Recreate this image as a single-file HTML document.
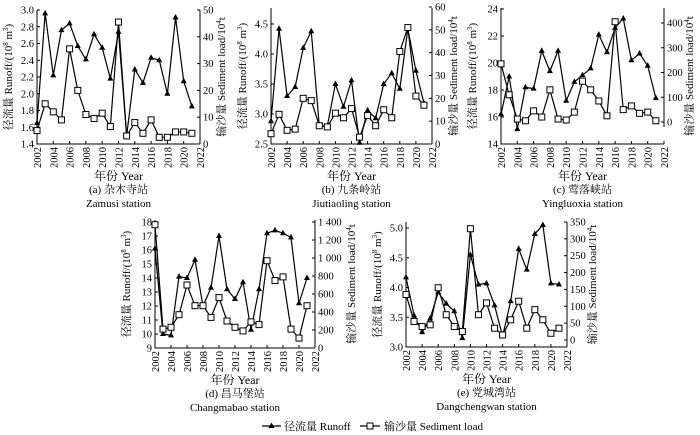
<!DOCTYPE html>
<html><head><meta charset="utf-8"><style>
html,body{margin:0;padding:0;background:#fff;}
svg{display:block;font-family:"Liberation Serif","Noto Serif CJK SC","Noto Sans CJK SC",serif;}
</style></head><body>
<svg id="c" width="700" height="435" viewBox="0 0 700 435" xmlns="http://www.w3.org/2000/svg"></svg>
<script>
const years=[2002,2003,2004,2005,2006,2007,2008,2009,2010,2011,2012,2013,2014,2015,2016,2017,2018,2019,2020,2021];
const xTicks=[2002,2004,2006,2008,2010,2012,2014,2016,2018,2020,2022];
const runoffA=[1.65,2.96,2.22,2.76,2.84,2.57,2.41,2.71,2.55,2.18,2.74,1.50,2.29,2.13,2.43,2.40,2.00,2.91,2.15,1.85];
const sedA=[5,15,12,9,35.5,20,11,9.5,11.5,6.5,45.5,3,8,4,9,2.5,2.5,4.5,4.5,4];
const runoffB=[2.88,4.42,3.30,3.45,4.10,4.38,2.80,2.80,3.50,3.12,3.56,2.52,3.06,2.93,3.50,3.68,3.42,4.42,3.72,3.18];
const sedB=[4.5,13,6,6.5,20,19,8,7.5,13.5,11.5,15.5,3,12.5,8,15,11.5,40.5,51,21,17];
const runoffC=[16.2,19.0,15.1,18.2,18.1,20.9,19.4,20.9,17.2,18.6,19.1,19.6,22.1,20.8,22.6,23.3,20.2,20.7,19.8,17.4];
const sedC=[235,110,12,5,45,20,130,12,8,40,165,130,85,25,405,50,65,35,40,5];
const runoffD=[16.1,10.0,9.9,14.1,14.0,15.3,12.0,13.3,17.0,13.2,12.5,13.7,10.3,13.2,17.2,17.4,17.2,16.9,12.2,14.0];
const sedD=[1370,210,230,370,700,470,470,340,560,300,230,190,290,260,970,750,790,210,110,470];
const runoffE=[4.17,3.53,3.25,3.48,3.92,3.73,3.60,3.15,4.55,4.05,4.07,3.70,3.18,3.77,4.65,4.30,4.90,5.05,4.07,4.05];
const sedE=[135,55,40,45,155,75,40,25,330,75,110,35,15,60,115,35,90,60,20,35];
const leftTicksA=[1.4,1.6,1.8,2.0,2.2,2.4,2.6,2.8,3.0], rightTicksA=[0,10,20,30,40,50];
const leftTicksB=[2.5,3.0,3.5,4.0,4.5], rightTicksB=[0,10,20,30,40,50,60];
const leftTicksC=[14,16,18,20,22,24], rightTicksC=[0,100,200,300,400];
const leftTicksD=[9,10,11,12,13,14,15,16,17,18], rightTicksD=[0,200,400,600,800,1000,1200,1400];
const leftTicksE=[3.0,3.5,4.0,4.5,5.0], rightTicksE=[0,50,100,150,200,250,300,350];

const panels=[
 {id:'a',cn:'(a) 杂木寺站',en:'Zamusi station',runoff:runoffA,sed:sedA,lt:leftTicksA,rt:rightTicksA,x0:37,x1:200,lmin:1.4,lmax:3.0,ly0:144,ly1:10,rmin:0,rmax:50,ry0:144,ry1:10,top:10,rbot:144,ld:1,ro:25},
 {id:'b',cn:'(b) 九条岭站',en:'Jiutiaoling station',runoff:runoffB,sed:sedB,lt:leftTicksB,rt:rightTicksB,x0:271,x1:432,lmin:2.5,lmax:4.5,ly0:144,ly1:24,rmin:0,rmax:60,ry0:144,ry1:7,top:8,rbot:144,ld:1,ro:25},
 {id:'c',cn:'(c) 莺落峡站',en:'Yingluoxia station',runoff:runoffC,sed:sedC,lt:leftTicksC,rt:rightTicksC,x0:501,x1:664,lmin:14,lmax:24,ly0:144,ly1:9,rmin:0,rmax:400,ry0:122,ry1:23,top:8,rbot:127,ld:0,ro:29},
 {id:'d',cn:'(d) 昌马堡站',en:'Changmabao station',runoff:runoffD,sed:sedD,lt:leftTicksD,rt:rightTicksD,x0:155,x1:315,lmin:9,lmax:18,ly0:348,ly1:222,rmin:0,rmax:1400,ry0:348,ry1:222,top:220,rbot:348,ld:0,ro:40},
 {id:'e',cn:'(e) 党城湾站',en:'Dangchengwan station',runoff:runoffE,sed:sedE,lt:leftTicksE,rt:rightTicksE,x0:406,x1:567,lmin:3,lmax:5,ly0:347,ly1:228,rmin:0,rmax:350,ry0:340,ry1:222,top:222,rbot:347,ld:1,ro:29}
];
const svg=document.getElementById('c');
const NS='http://www.w3.org/2000/svg';
function mk(tag,attrs,parent,text){const e=document.createElementNS(NS,tag);for(const k in attrs)e.setAttribute(k,attrs[k]);if(text!==undefined)e.textContent=text;(parent||svg).appendChild(e);return e;}
function fmt(v){const s=String(v);return s.length>3?s.replace(/^(\d)(\d{3})$/,'$1 $2'):s;}
panels.forEach(p=>{
 const g=mk('g',{});
 
 
 const X=y=>p.x0+(y-2002)/(2022-2002)*(p.x1-p.x0);
 const YL=v=>p.ly0+(v-p.lmin)/(p.lmax-p.lmin)*(p.ly1-p.ly0);
 const YR=v=>p.ry0+(v-p.rmin)/(p.rmax-p.rmin)*(p.ry1-p.ry0);
 const by=p.ly0;
 const ax=mk('path',{d:`M${p.x0} ${p.top}V${by}H${p.x1}M${p.x1} ${p.top}V${p.rbot}`,stroke:'#000','stroke-width':1,fill:'none'},g);
 
 
 p.lt.forEach(v=>{const y=YL(v);mk('line',{x1:p.x0,x2:p.x0+3,y1:y,y2:y,stroke:'#000'},g);
  const t=mk('text',{x:p.x0-3,y:y+3.5,'font-size':10.5,'text-anchor':'end'},g,p.ld?v.toFixed(1):String(v));
  
  });
 p.rt.forEach(v=>{const y=YR(v);mk('line',{x1:p.x1,x2:p.x1-3,y1:y,y2:y,stroke:'#000'},g);
  const t=mk('text',{x:p.x1+3,y:y+3.5,'font-size':10.5},g,fmt(v));
  
  });
 xTicks.forEach(v=>{const x=X(v);mk('line',{x1:x,x2:x,y1:by,y2:by-3,stroke:'#000'},g);
  const t=mk('text',{transform:`translate(${x+4},${by+3}) rotate(-90)`,'font-size':10.5,'text-anchor':'end'},g,String(v));
  
  });
 const midL=(p.top+by)/2;
 const yl=mk('text',{transform:`translate(${p.x0-25},${midL}) rotate(-90)`,'font-size':11,'text-anchor':'middle'},g);
 
 
 yl.innerHTML='径流量 Runoff/(10<tspan font-size="7" dy="-4">8</tspan><tspan dy="4"> m</tspan><tspan font-size="7" dy="-4">3</tspan><tspan dy="4">)</tspan>';
 const yr=mk('text',{transform:`translate(${p.x1+p.ro},${midL}) rotate(-90)`,'font-size':11,'text-anchor':'middle'},g);
 
 
 yr.innerHTML='输沙量 Sediment load/10<tspan font-size="7" dy="-4">4</tspan><tspan dy="4">t</tspan>';
 const cx=(p.x0+p.x1)/2;
 const xt=mk('text',{x:cx,y:by+36,'font-size':12,'text-anchor':'middle'},g,'年份 Year');
 
 
 const c1=mk('text',{x:cx,y:by+49,'font-size':11,'text-anchor':'middle'},g,p.cn);
 
 
 const c2=mk('text',{x:cx,y:by+63,'font-size':11,'text-anchor':'middle'},g,p.en);
 
 
 const rl=mk('polyline',{points:years.map((y,i)=>X(y)+','+YL(p.runoff[i])).join(' '),fill:'none',stroke:'#000','stroke-width':1.2},g);
 
 
 const sl=mk('polyline',{points:years.map((y,i)=>X(y)+','+YR(p.sed[i])).join(' '),fill:'none',stroke:'#000','stroke-width':1.2},g);
 
 
 years.forEach((y,i)=>{const x=X(y),v=YL(p.runoff[i]);
  const m=mk('path',{d:`M${x} ${v-3.5}L${x+3} ${v+2}L${x-3} ${v+2}Z`,fill:'#000'},g);
  
  });
 years.forEach((y,i)=>{const x=X(y),v=YR(p.sed[i]);
  const m=mk('rect',{x:x-3,y:v-3,width:6,height:6,fill:'#fff',stroke:'#000','stroke-width':1},g);
  
  });
});
const lg=mk('g',{});


const l1=mk('g',{},lg);


mk('line',{x1:262,x2:281,y1:426,y2:426,stroke:'#000','stroke-width':1.2},l1);
mk('path',{d:'M271.5 422.5L274.5 428L268.5 428Z',fill:'#000'},l1);
mk('text',{x:284,y:430,'font-size':11},l1,'径流量 Runoff');
const l2=mk('g',{},lg);


mk('line',{x1:360,x2:380,y1:426,y2:426,stroke:'#000','stroke-width':1.2},l2);
mk('rect',{x:367,y:423,width:6,height:6,fill:'#fff',stroke:'#000'},l2);
mk('text',{x:384,y:430,'font-size':11},l2,'输沙量 Sediment load');
</script>
</body></html>
